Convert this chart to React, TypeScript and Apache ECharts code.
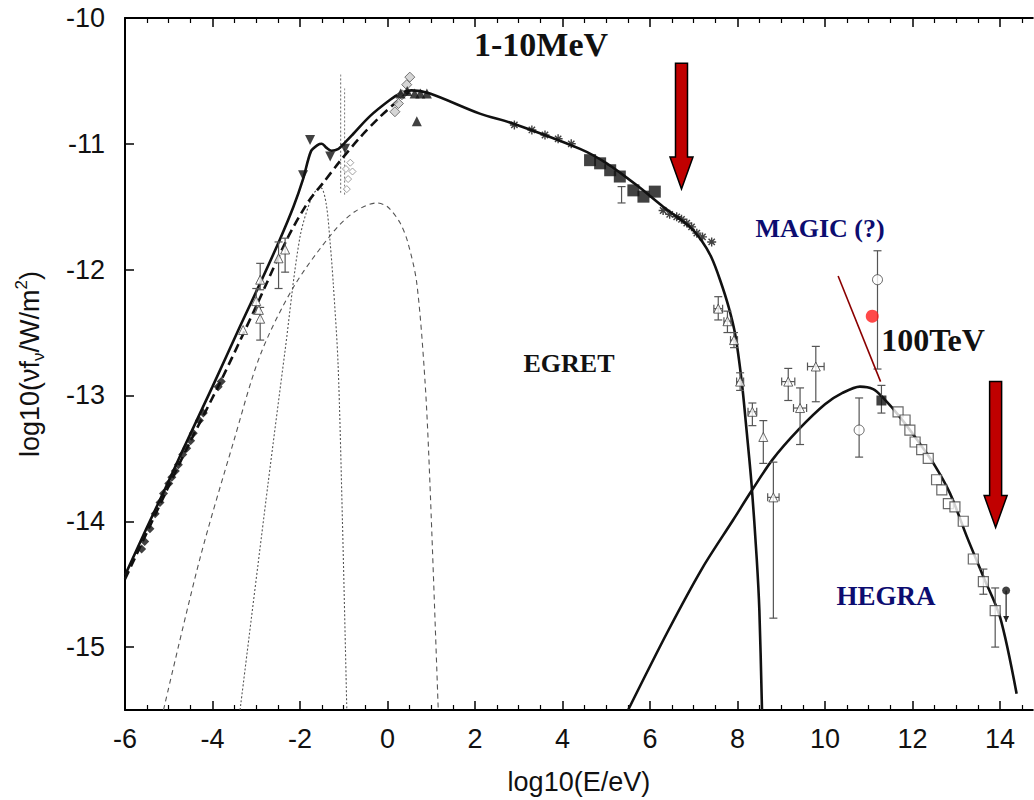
import React, { useEffect, useRef } from 'react';
import * as echarts from 'echarts';

const X_TICKS = [-6, -4, -2, 0, 2, 4, 6, 8, 10, 12, 14];
const Y_TICKS = [-15, -14, -13, -12, -11, -10];

// model curves [log10 E, log10 nuF]
const modelTotal = [
  [-6, -14.43], [-5.5, -14.05], [-5, -13.68], [-4.7, -13.45], [-4, -12.93], [-3.37, -12.45],
  [-2.9, -12.1], [-2.46, -11.76], [-2.15, -11.5], [-1.93, -11.28], [-1.75, -11.06], [-1.6, -11.01],
  [-1.5, -11.0], [-1.4, -11.03], [-1.28, -11.055], [-1.12, -11.04], [-1.0, -11.0], [-0.78, -10.92],
  [-0.4, -10.78], [0.06, -10.65], [0.29, -10.6], [0.55, -10.575], [0.97, -10.6], [2.11, -10.76],
  [2.88, -10.84], [4.4, -11.04], [5.01, -11.155], [5.7, -11.33], [6.3, -11.5], [6.91, -11.66],
  [7.2, -11.78], [7.4, -11.9], [7.6, -12.08], [7.8, -12.3], [7.95, -12.52], [8.1, -12.9],
  [8.2, -13.25], [8.32, -13.7], [8.44, -14.3], [8.5, -14.71], [8.56, -15.5]
];
const syncDashed = [
  [-6, -14.46], [-5, -13.72], [-4.5, -13.36], [-3.83, -12.9], [-3.0, -12.29], [-2.3, -11.76],
  [-1.81, -11.46], [-1.47, -11.31], [-1.09, -11.14], [-0.63, -10.95], [-0.17, -10.785],
  [0.13, -10.69], [0.36, -10.62], [0.5, -10.59]
];
const broadHump = [
  [-5.12, -15.5], [-4.29, -14.3], [-3.52, -13.37], [-2.91, -12.68], [-2.15, -12.14], [-1.24, -11.7],
  [-0.75, -11.54], [-0.25, -11.47], [0.0, -11.5], [0.29, -11.63], [0.47, -11.79], [0.67, -12.11],
  [0.86, -12.9], [0.97, -13.7], [1.16, -15.5]
];
const narrowHump = [
  [-3.37, -15.5], [-2.73, -13.7], [-2.34, -12.64], [-2.0, -11.74], [-1.7, -11.4], [-1.52, -11.35],
  [-1.4, -11.48], [-1.31, -11.79], [-1.24, -12.11], [-1.13, -12.75], [-1.03, -14.0], [-0.93, -15.5]
];
const icHump = [
  [5.5, -15.5], [6.4, -14.88], [7.2, -14.37], [7.9, -13.99], [8.3, -13.77], [8.8, -13.51],
  [9.4, -13.27], [10.0, -13.07], [10.4, -12.98], [10.8, -12.93], [11.1, -12.95], [11.33, -13.02],
  [11.71, -13.17], [12.1, -13.35], [12.48, -13.54], [12.86, -13.78], [13.24, -14.12], [13.62, -14.44],
  [14.0, -14.76], [14.38, -15.37]
];
const spikeA = [[-1.07, -10.45], [-1.07, -11.4]];
const spikeB = [[-0.98, -10.56], [-0.98, -11.42]];

// data points
const radioPts = [
  [-5.62, -14.22], [-5.55, -14.16], [-5.43, -14.06], [-5.31, -13.94], [-5.2, -13.85], [-5.12, -13.78],
  [-5.0, -13.7], [-4.93, -13.65], [-4.85, -13.6], [-4.78, -13.55], [-4.68, -13.47], [-4.59, -13.42],
  [-4.5, -13.36], [-4.44, -13.3], [-4.3, -13.2], [-4.21, -13.14], [-3.87, -12.93], [-3.8, -12.89]
];
const irTriangles = [
  [-3.3, -12.48], [-2.91, -12.08], [-3.0, -12.25], [-2.94, -12.32], [-2.91, -12.39],
  [-2.49, -11.91], [-2.34, -11.84]
];
const downTriangles = [[-1.77, -10.97], [-1.31, -11.1], [-1.93, -11.25], [-0.97, -11.04]];
const opticalGrey = [[-0.95, -11.2], [-0.9, -11.28], [-0.85, -11.15], [-0.93, -11.36], [-0.8, -11.22]];
const xrayDiamonds = [[0.17, -10.745], [0.25, -10.68], [0.33, -10.61], [0.44, -10.53], [0.51, -10.47]];
const filledTriangles = [[0.3, -10.6], [0.45, -10.58], [0.62, -10.6], [0.75, -10.6], [0.9, -10.6], [0.67, -10.82]];
const egretSquares = [[4.63, -11.13], [4.86, -11.155], [5.09, -11.21], [5.31, -11.26], [5.62, -11.37], [5.85, -11.42], [6.11, -11.38]];
const crosses = [
  [2.9, -10.85], [3.3, -10.89], [3.6, -10.93], [3.9, -10.96], [4.2, -11.0],
  [6.3, -11.53], [6.45, -11.56], [6.61, -11.58], [6.72, -11.6], [6.84, -11.63], [6.95, -11.66],
  [7.07, -11.71], [7.2, -11.74], [7.41, -11.78]
];
const tevTriangles = [
  [7.56, -12.31], [7.77, -12.41], [7.92, -12.56], [8.06, -12.89], [8.34, -13.13], [8.59, -13.33],
  [8.82, -13.81], [9.16, -12.89], [9.43, -13.1], [9.79, -12.77]
];
const openCircles = [[10.78, -13.275], [11.2, -12.08]];
const blackSquare = [[11.29, -13.04]];
const hegraSquares = [
  [11.67, -13.13], [11.83, -13.195], [11.94, -13.275], [12.06, -13.37], [12.21, -13.43], [12.36, -13.5],
  [12.55, -13.67], [12.67, -13.75], [12.82, -13.86], [12.97, -13.885], [13.16, -14.0], [13.39, -14.3],
  [13.62, -14.48], [13.89, -14.71]
];
const upperLimit = [[14.14, -14.55, -14.8]];
// error bars: [x, y, low, high, xHalfWidth]
const errorBars = [
  [-2.91, -12.08, -12.16, -11.95, 0], [-3.0, -12.25, -12.35, -12.15, 0], [-2.91, -12.39, -12.56, -12.3, 0],
  [-2.49, -11.91, -12.15, -11.78, 0], [-2.34, -11.84, -12.02, -11.75, 0],
  [5.35, -11.34, -11.47, -11.34, 0],
  [7.56, -12.31, -12.4, -12.215, 0.1], [7.77, -12.41, -12.5, -12.33, 0.08], [7.92, -12.56, -12.62, -12.5, 0.08],
  [8.06, -12.89, -12.96, -12.82, 0.08], [8.34, -13.13, -13.24, -13.06, 0.1], [8.59, -13.33, -13.54, -13.2, 0],
  [8.82, -13.81, -14.77, -13.53, 0.13], [9.16, -12.89, -13.04, -12.785, 0.15], [9.43, -13.1, -13.39, -12.94, 0.15],
  [9.79, -12.77, -13.05, -12.61, 0.19],
  [10.78, -13.275, -13.49, -13.02, 0], [11.2, -12.08, -12.79, -11.85, 0], [11.29, -13.04, -13.14, -12.92, 0],
  [13.62, -14.48, -14.58, -14.38, 0], [13.89, -14.71, -15.0, -14.53, 0]
];
const magicDot = [[11.08, -12.37]];
const magicSlope = [[10.3, -12.05], [11.27, -12.89]];
// arrows: [x, yTop, yTip]
const arrows = [[6.72, -10.36, -11.36], [13.9, -12.89, -14.05]];

const SANS = '"Liberation Sans", Arial, sans-serif';
const SERIF = '"Liberation Serif", "DejaVu Serif", serif';

function errRender(params: any, api: any) {
  const x = api.value(0), y = api.value(1), lo = api.value(2), hi = api.value(3), xe = api.value(4);
  const style = { stroke: '#555', lineWidth: 1.2 };
  const kids: any[] = [];
  if (hi !== lo) {
    const a = api.coord([x, hi]), b = api.coord([x, lo]);
    kids.push({ type: 'line', shape: { x1: a[0], y1: a[1], x2: b[0], y2: b[1] }, style });
    kids.push({ type: 'line', shape: { x1: a[0] - 4, y1: a[1], x2: a[0] + 4, y2: a[1] }, style });
    kids.push({ type: 'line', shape: { x1: b[0] - 4, y1: b[1], x2: b[0] + 4, y2: b[1] }, style });
  }
  if (xe > 0) {
    const l = api.coord([x - xe, y]), r = api.coord([x + xe, y]);
    kids.push({ type: 'line', shape: { x1: l[0], y1: l[1], x2: r[0], y2: r[1] }, style });
    kids.push({ type: 'line', shape: { x1: l[0], y1: l[1] - 4, x2: l[0], y2: l[1] + 4 }, style });
    kids.push({ type: 'line', shape: { x1: r[0], y1: r[1] - 4, x2: r[0], y2: r[1] + 4 }, style });
  }
  return { type: 'group', children: kids };
}

function ulRender(params: any, api: any) {
  const x = api.value(0), y = api.value(1), lo = api.value(2);
  const a = api.coord([x, y]), b = api.coord([x, lo]);
  const style = { stroke: '#222', lineWidth: 1.2 };
  return {
    type: 'group', children: [
      { type: 'line', shape: { x1: a[0], y1: a[1], x2: b[0], y2: b[1] }, style },
      { type: 'polygon', shape: { points: [[b[0] - 3, b[1] - 6], [b[0] + 3, b[1] - 6], [b[0], b[1]]] }, style: { fill: '#222' } }
    ]
  };
}

function lineS(data: number[][], color: string, width: number, type: any, z = 3) {
  return {
    type: 'line', data, symbol: 'none', smooth: 0.3, z,
    lineStyle: { color, width, type }, emphasis: { disabled: true }
  };
}

function scat(data: number[][], symbol: string, size: number, itemStyle: any, extra: any = {}) {
  return { type: 'scatter', data, symbol, symbolSize: size, itemStyle, z: 6, emphasis: { disabled: true }, ...extra };
}

const ASTER = 'path://M5,0L5,10M0,5L10,5M1.5,1.5L8.5,8.5M1.5,8.5L8.5,1.5';

export default function App() {
  const ref = useRef<HTMLDivElement>(null);
  useEffect(() => {
    const chart = echarts.init(ref.current!, null, { renderer: 'svg' });
    const xCommon = {
      type: 'value', min: -6, max: 14.75, interval: 2,
      axisLine: { show: true, onZero: false, lineStyle: { color: '#000', width: 2 } },
      axisTick: { show: true, inside: true, length: 9, lineStyle: { color: '#000', width: 1.5 }, customValues: X_TICKS },
      minorTick: { show: true, splitNumber: 4, length: 5, lineStyle: { color: '#000', width: 1.2 } },
      splitLine: { show: false }
    };
    const option: any = {
      animation: false,
      backgroundColor: '#fff',
      grid: { left: 125, top: 18, right: 1.19, bottom: 90 },
      xAxis: [
        {
          ...xCommon, position: 'bottom',
          axisLabel: { customValues: X_TICKS, fontSize: 27, fontFamily: SANS, color: '#111', margin: 15 },
          name: 'log10(E/eV)', nameLocation: 'middle', nameGap: 58,
          nameTextStyle: { fontSize: 27, fontFamily: SANS, color: '#111' }
        },
        { ...xCommon, position: 'top', axisLabel: { show: false } }
      ],
      yAxis: {
        type: 'value', min: -15.5, max: -10,
        axisLine: { show: true, onZero: false, lineStyle: { color: '#000', width: 2 } },
        axisTick: { show: true, inside: true, length: 9, lineStyle: { color: '#000', width: 1.5 }, customValues: Y_TICKS },
        axisLabel: { customValues: Y_TICKS, fontSize: 27, fontFamily: SANS, color: '#111', margin: 20 },
        splitLine: { show: false },
        name: '{a|log10(νf}{sub|ν}{a|/W/m}{sup|2}{a|)}',
        nameLocation: 'middle', nameGap: 78, nameRotate: 90,
        nameTextStyle: {
          fontFamily: SANS, fontSize: 27, color: '#111',
          rich: {
            a: { fontFamily: SANS, fontSize: 27, color: '#111', lineHeight: 34, verticalAlign: 'middle' },
            sub: { fontFamily: SANS, fontSize: 17, color: '#111', lineHeight: 17, verticalAlign: 'bottom' },
            sup: { fontFamily: SANS, fontSize: 17, color: '#111', lineHeight: 17, verticalAlign: 'top' }
          }
        }
      },
      series: [
        lineS(broadHump, '#555', 1.1, [5, 4], 2),
        lineS(narrowHump, '#555', 1.1, [2, 2], 2),
        lineS(spikeA, '#666', 1, [2, 2], 2),
        lineS(spikeB, '#777', 1, [2, 2], 2),
        lineS(syncDashed, '#111', 2.6, [9, 5], 3),
        lineS(modelTotal, '#111', 2.6, 'solid', 4),
        lineS(icHump, '#111', 2.6, 'solid', 4),
        {
          type: 'custom', data: errorBars, renderItem: errRender, z: 5,
          encode: { x: 0, y: 1 }, emphasis: { disabled: true }, silent: true
        },
        {
          type: 'custom', data: upperLimit, renderItem: ulRender, z: 5,
          encode: { x: 0, y: 1 }, silent: true
        },
        scat(radioPts, 'diamond', 9, { color: '#111' }),
        scat(irTriangles, 'triangle', 9, { color: '#fff', borderColor: '#444', borderWidth: 1 }),
        scat(downTriangles, 'triangle', 10, { color: '#111' }, { symbolRotate: 180 }),
        scat(opticalGrey, 'diamond', 7, { color: '#fff', borderColor: '#888', borderWidth: 1 }),
        scat(xrayDiamonds, 'diamond', 10, { color: '#ccc', borderColor: '#555', borderWidth: 1 }),
        scat(filledTriangles, 'triangle', 10, { color: '#111' }),
        scat(egretSquares, 'rect', 12, { color: '#111' }),
        scat(crosses, ASTER, 9, { color: 'transparent', borderColor: '#111', borderWidth: 1.4 }),
        scat(tevTriangles, 'triangle', 9, { color: '#fff', borderColor: '#444', borderWidth: 1 }),
        scat(openCircles, 'circle', 10, { color: '#fff', borderColor: '#444', borderWidth: 1 }),
        scat(blackSquare, 'rect', 10, { color: '#111' }),
        scat(hegraSquares, 'rect', 10, { color: '#fff', borderColor: '#444', borderWidth: 1.2 }),
        scat(upperLimit.map(d => [d[0], d[1]]), 'circle', 8, { color: '#111' }),
        {
          type: 'line', data: magicSlope, symbol: 'none', z: 7,
          lineStyle: { color: '#8b0000', width: 1.6 }, emphasis: { disabled: true }
        },
        scat(magicDot, 'circle', 13, { color: '#ff1a1a' }, { z: 8 })
      ]
    };
    chart.setOption(option);

    const arrowEls = arrows.map(([x, yTop, yTip]) => {
      const top = chart.convertToPixel({ gridIndex: 0 }, [x, yTop]) as number[];
      const tip = chart.convertToPixel({ gridIndex: 0 }, [x, yTip]) as number[];
      const cx = top[0];
      const headTop = tip[1] - 32;
      return {
        type: 'polygon', z: 100,
        shape: {
          points: [[cx - 6, top[1]], [cx + 6, top[1]], [cx + 6, headTop], [cx + 11.5, headTop], [cx, tip[1]],
          [cx - 11.5, headTop], [cx - 6, headTop]]
        },
        style: { fill: '#c00000', stroke: '#000', lineWidth: 1.5 }
      };
    });
    const txt = (text: string, x: number, y: number, size: number, fill: string) => ({
      type: 'text', x, y, z: 100,
      style: { text, fill, fontSize: size, fontWeight: 'bold', fontFamily: SERIF, align: 'center', verticalAlign: 'middle' }
    });
    chart.setOption({
      graphic: [
        ...arrowEls,
        txt('1-10MeV', 541, 44, 34, '#111'),
        txt('EGRET', 569, 363, 26, '#111'),
        txt('MAGIC (?)', 820, 228, 26, '#0c0c70'),
        txt('100TeV', 933, 340, 32, '#111'),
        txt('HEGRA', 886, 596, 27, '#0c0c70')
      ]
    });
    return () => chart.dispose();
  }, []);
  return (
    <div style={{ position: 'absolute', left: 0, top: 0, width: 1034, height: 800, background: '#fff', overflow: 'hidden' }}>
      <div ref={ref} style={{ width: 1034, height: 800 }} />
    </div>
  );
}
